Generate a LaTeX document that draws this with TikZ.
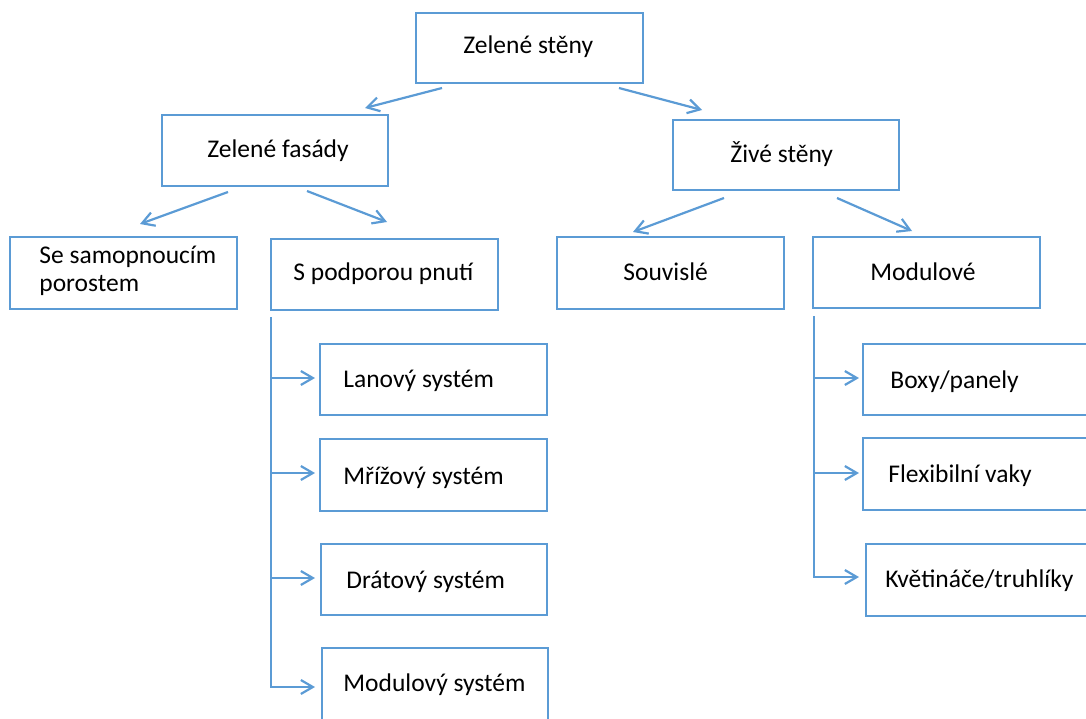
\documentclass[tikz,border=0pt]{standalone}
\usepackage{fontspec}
\setmainfont{Carlito}
\usetikzlibrary{arrows.meta,calc,fit}
\definecolor{bl}{HTML}{5B9BD5}
\begin{document}
\begin{tikzpicture}[x=0.5pt,y=-0.5pt,
  box/.style={draw=bl,line width=1.3pt,inner sep=0pt,outer sep=0pt},
  lbl/.style={font=\fontsize{12.75}{14}\selectfont,inner sep=0pt,anchor=base west,text=black},
  arr/.style={draw=bl,line width=1.1pt,-{Straight Barb[length=6pt,width=7pt,line width=1.1pt]}}]
\useasboundingbox (0,0) rectangle (1086,718);
% boxes
\node[box,fit={(416,13) (643,83)}] (zs) {};
\node[box,fit={(162,115) (388,186)}] (zf) {};
\node[box,fit={(673,120) (899,190)}] (zv) {};
\node[box,fit={(10,237) (237,309)}] (sp) {};
\node[box,fit={(271,239) (498,310)}] (pp) {};
\node[box,fit={(557,237) (784,309)}] (so) {};
\node[box,fit={(813,237) (1040,308)}] (mo) {};
\node[box,fit={(320,344) (547,415)}] (la) {};
\node[box,fit={(320,439) (547,511)}] (mr) {};
\node[box,fit={(321,544) (547,615)}] (dr) {};
\node[box,fit={(322,648) (548,722)}] (ms) {};
\node[box,fit={(863,344) (1092,415)}] (bx) {};
\node[box,fit={(863,438) (1092,510)}] (fv) {};
\node[box,fit={(866,544) (1092,616)}] (kv) {};
% labels
\node[lbl] (zs-t) at (463,53) {Zelené stěny};
\node[lbl] (zf-t) at (207,157) {Zelené fasády};
\node[lbl] (zv-t) at (730,162) {Živé stěny};
\node[lbl] (sp-t1) at (39,263) {Se samopnoucím};
\node[lbl] (sp-t2) at (39,291) {porostem};
\node[lbl] (pp-t) at (293,280) {S podporou pnutí};
\node[lbl] (so-t) at (623,280) {Souvislé};
\node[lbl] (mo-t) at (870,280) {Modulové};
\node[lbl] (la-t) at (343,387) {Lanový systém};
\node[lbl] (mr-t) at (343,484) {Mřížový systém};
\node[lbl] (dr-t) at (346,588) {Drátový systém};
\node[lbl] (ms-t) at (343,691) {Modulový systém};
\node[lbl] (bx-t) at (890,388) {Boxy/panely};
\node[lbl] (fv-t) at (888,482) {Flexibilní vaky};
\node[lbl] (kv-t) at (885,587) {Květináče/truhlíky};
% diagonal arrow endpoints
\coordinate (a1s) at (442,88);  \coordinate (a1e) at (365,108);
\coordinate (a2s) at (619,88);  \coordinate (a2e) at (702,110);
\coordinate (a3s) at (228,192); \coordinate (a3e) at (140,224);
\coordinate (a4s) at (307,191); \coordinate (a4e) at (387,222);
\coordinate (a5s) at (724,198); \coordinate (a5e) at (633,232);
\coordinate (a6s) at (837,198); \coordinate (a6e) at (912,231);
\draw[arr] (a1s) -- (a1e);
\draw[arr] (a2s) -- (a2e);
\draw[arr] (a3s) -- (a3e);
\draw[arr] (a4s) -- (a4e);
\draw[arr] (a5s) -- (a5e);
\draw[arr] (a6s) -- (a6e);
% left branch
\coordinate (lv) at (271,317);
\coordinate (la-in) at (315,378);
\coordinate (mr-in) at (315,473);
\coordinate (dr-in) at (315,578);
\coordinate (ms-in) at (315,687);
\draw[arr] (lv) |- (ms-in);
\draw[arr] (lv |- la-in) -- (la-in);
\draw[arr] (lv |- mr-in) -- (mr-in);
\draw[arr] (lv |- dr-in) -- (dr-in);
% right branch
\coordinate (rv) at (814,316);
\coordinate (bx-in) at (859,378);
\coordinate (fv-in) at (859,473);
\coordinate (kv-in) at (859,577);
\draw[arr] (rv) |- (kv-in);
\draw[arr] (rv |- bx-in) -- (bx-in);
\draw[arr] (rv |- fv-in) -- (fv-in);
\end{tikzpicture}
\end{document}
